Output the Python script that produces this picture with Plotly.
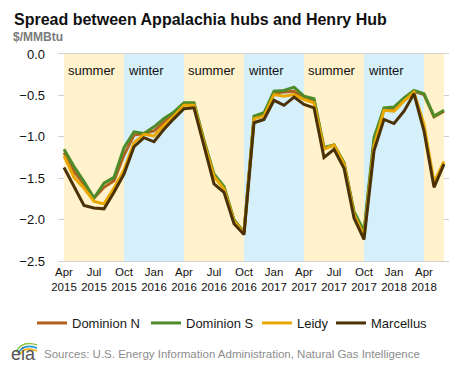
import plotly.graph_objects as go

# ---- data ----
months = ["Apr 2015","May 2015","Jun 2015","Jul 2015","Aug 2015","Sep 2015","Oct 2015","Nov 2015","Dec 2015",
          "Jan 2016","Feb 2016","Mar 2016","Apr 2016","May 2016","Jun 2016","Jul 2016","Aug 2016","Sep 2016",
          "Oct 2016","Nov 2016","Dec 2016","Jan 2017","Feb 2017","Mar 2017","Apr 2017","May 2017","Jun 2017",
          "Jul 2017","Aug 2017","Sep 2017","Oct 2017","Nov 2017","Dec 2017","Jan 2018","Feb 2018","Mar 2018",
          "Apr 2018","May 2018","Jun 2018"]

dominion_s = [-1.15,-1.36,-1.54,-1.74,-1.56,-1.49,-1.13,-0.94,-0.96,-0.88,-0.78,-0.70,-0.59,-0.59,-1.04,-1.45,-1.60,-2.00,
              -2.15,-0.75,-0.71,-0.45,-0.44,-0.40,-0.51,-0.54,-1.13,-1.10,-1.31,-1.90,-2.14,-1.01,-0.65,-0.64,-0.53,-0.44,
              -0.48,-0.75,-0.68]
dominion_n = [-1.19,-1.42,-1.57,-1.74,-1.61,-1.53,-1.22,-0.98,-0.96,-0.93,-0.82,-0.73,-0.61,-0.61,-1.06,-1.47,-1.62,-2.02,
              -2.16,-0.77,-0.73,-0.47,-0.46,-0.45,-0.53,-0.56,-1.14,-1.10,-1.32,-1.92,-2.17,-1.06,-0.66,-0.66,-0.55,-0.45,
              -0.49,-0.76,-0.69]
leidy = [-1.23,-1.49,-1.62,-1.78,-1.81,-1.62,-1.40,-1.07,-0.97,-0.99,-0.86,-0.75,-0.62,-0.62,-1.07,-1.48,-1.63,-2.02,
         -2.16,-0.78,-0.75,-0.49,-0.51,-0.49,-0.55,-0.59,-1.15,-1.10,-1.33,-1.94,-2.20,-1.11,-0.68,-0.69,-0.57,-0.46,
         -0.85,-1.55,-1.30]
marcellus = [-1.37,-1.61,-1.83,-1.86,-1.87,-1.67,-1.45,-1.12,-1.01,-1.06,-0.91,-0.78,-0.66,-0.65,-1.11,-1.57,-1.67,-2.05,
             -2.18,-0.83,-0.79,-0.56,-0.62,-0.52,-0.61,-0.65,-1.25,-1.15,-1.38,-1.98,-2.24,-1.17,-0.79,-0.84,-0.69,-0.48,
             -0.93,-1.61,-1.33]

season_names = ["summer","winter","summer","winter","summer","winter","summer"]
season_start = ["Apr 2015","Oct 2015","Apr 2016","Oct 2016","Apr 2017","Oct 2017","Apr 2018"]
season_end   = ["Oct 2015","Apr 2016","Oct 2016","Apr 2017","Oct 2017","Apr 2018","Jun 2018"]

tick_months = months[::3]

series = [("Dominion N", dominion_n, "#B0601F"),
          ("Dominion S", dominion_s, "#4E8C2A"),
          ("Leidy", leidy, "#E9A800"),
          ("Marcellus", marcellus, "#4B3206")]

season_colors = {"summer": "#FFF2CC", "winter": "#D5EFFB"}

x = list(range(len(months)))
idx = {m: i for i, m in enumerate(months)}

W, H = 468, 366
L, R, T, B = 50, 27, 46, 113
pw, ph = W - L - R, H - T - B

def px(xp): return (xp - L) / pw
def py(yp): return (H - B - yp) / ph

legend_x = [24, 138, 249, 323]
legend_names = ["legend", "legend2", "legend3", "legend4"]

fig = go.Figure()
for (name, vals, col), lg in zip(series, legend_names):
    fig.add_trace(go.Scatter(x=x, y=vals, mode="lines", name=name, legend=lg,
                             line=dict(color=col, width=3), hoverinfo="skip"))

shapes = []
annotations = []
for nm, s, e in zip(season_names, season_start, season_end):
    shapes.append(dict(type="rect", xref="x", yref="y", x0=idx[s], x1=idx[e], y0=-2.5, y1=0,
                       fillcolor=season_colors[nm], line=dict(width=0), layer="between"))
    if idx[e] - idx[s] >= 6:
        annotations.append(dict(x=idx[s], y=0, xref="x", yref="y", text=nm, showarrow=False,
                                xanchor="left", yanchor="top", xshift=2, yshift=-7,
                                font=dict(family="Arial", size=13, color="#111111")))

# title & subtitle
annotations.append(dict(x=px(4), y=py(12), xref="paper", yref="paper", text="<b>Spread between Appalachia hubs and Henry Hub</b>",
                        showarrow=False, xanchor="left", yanchor="middle", font=dict(family="Arial", size=16, color="#111111")))
annotations.append(dict(x=px(3), y=py(29), xref="paper", yref="paper", text="<b>$/MMBtu</b>",
                        showarrow=False, xanchor="left", yanchor="middle", font=dict(family="Arial", size=12, color="#7a7a7a")))
# source
annotations.append(dict(x=px(34), y=py(346), xref="paper", yref="paper",
                        text="Sources: U.S. Energy Information Administration, Natural Gas Intelligence",
                        showarrow=False, xanchor="left", yanchor="middle", font=dict(family="Arial", size=11.5, color="#8c8c8c")))
# eia logo
annotations.append(dict(x=px(1), y=py(346), xref="paper", yref="paper", text="eia",
                        showarrow=False, xanchor="left", yanchor="middle", font=dict(family="Arial", size=18, color="#555555")))
def arc(p0, c, p1):
    return f"M {px(p0[0])},{py(p0[1])} Q {px(c[0])},{py(c[1])} {px(p1[0])},{py(p1[1])}"
for (a, b, cc), col in [(((8, 344), (14, 332), (29, 337)), "#8DC63F"),
                         (((10, 345), (16, 335), (29, 340)), "#1B9AD6"),
                         (((12, 346), (17, 338), (29, 343)), "#F7B515")]:
    shapes.append(dict(type="path", xref="paper", yref="paper", path=arc(a, b, cc),
                       line=dict(color=col, width=1.6)))

legend_common = dict(orientation="h", xanchor="left", y=py(300), yanchor="top",
                     font=dict(family="Arial", size=13, color="#1a1a1a"), itemwidth=30,
                     bgcolor="rgba(0,0,0,0)")

fig.update_layout(
    width=W, height=H,
    margin=dict(l=L, r=R, t=T, b=B),
    paper_bgcolor="white", plot_bgcolor="white",
    shapes=shapes, annotations=annotations,
    showlegend=True,
    legend=dict(x=px(legend_x[0]), **legend_common),
    legend2=dict(x=px(legend_x[1]), **legend_common),
    legend3=dict(x=px(legend_x[2]), **legend_common),
    legend4=dict(x=px(legend_x[3]), **legend_common),
    xaxis=dict(range=[-0.6, len(months) - 0.5], tickvals=[idx[m] for m in tick_months],
               ticktext=[m.replace(" ", "<br>") for m in tick_months], tickangle=0,
               showgrid=False, zeroline=False, showline=True, mirror=True, linecolor="#d0d0d0", linewidth=1,
               ticks="", tickfont=dict(family="Arial", size=11.5, color="#111111")),
    yaxis=dict(range=[-2.5, 0], tickvals=[0, -0.5, -1.0, -1.5, -2.0, -2.5], tickformat=".1f",
               showgrid=True, gridcolor="#d0d0d0", gridwidth=1, zeroline=False, showline=False,
               ticks="", ticklabelstandoff=12, tickfont=dict(family="Arial", size=13, color="#111111")),
)

fig.write_html("out.html")
